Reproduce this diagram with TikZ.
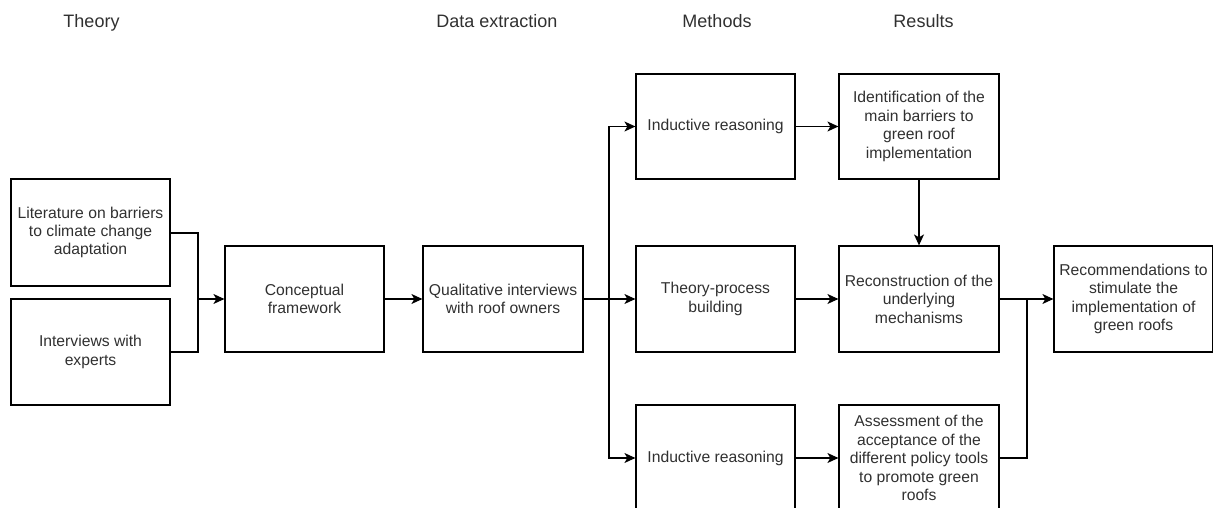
\documentclass[tikz,border=0pt]{standalone}
\usepackage{fontspec}
\setmainfont{Liberation Sans}
\usetikzlibrary{arrows.meta}
\definecolor{txt}{HTML}{303030}
\tikzset{
  box/.style={draw=black, line width=1.2pt, minimum width=159pt, minimum height=106pt,
    inner sep=0pt, align=center, text=txt, font=\fontsize{15.7}{18.4}\selectfont},
  head/.style={anchor=base, text=txt, inner sep=0pt, font=\fontsize{18}{21}\selectfont},
  link/.style={line width=1.2pt, draw=black},
  arr/.style={link, -{Stealth[length=11pt,width=10pt,inset=3pt]}}
}
\begin{document}
\begin{tikzpicture}[x=1pt,y=-1pt]
\useasboundingbox (0,0) rectangle (1213,508);
\clip (0,0) rectangle (1213,508);

% column headings
\node[head] (hTheory) at (91.5,28) {Theory};
\node[head] (hData) at (497,28) {Data extraction};
\node[head] (hMethods) at (717,28) {Methods};
\node[head] (hResults) at (923.5,28) {Results};

% theory
\node[box, minimum height=107pt] (lit) at (90.5,232.5) {Literature on barriers\\to climate change\\adaptation};
\node[box] (exp) at (90.5,352) {Interviews with\\experts};
\node[box] (conc) at (304.5,299) {Conceptual\\framework};

% data extraction
\node[box, minimum width=160pt] (qual) at (503,299) {Qualitative interviews\\with roof owners};

% methods
\node[box, minimum height=105pt] (ind1) at (715.5,126.5) {Inductive reasoning};
\node[box] (tpb) at (715.5,299) {Theory-process\\building};
\node[box] (ind2) at (715.5,458) {Inductive reasoning};

% results
\node[box, minimum width=160pt, minimum height=105pt] (ident) at (919,126.5) {Identification of the\\main barriers to\\green roof\\implementation};
\node[box, minimum width=160pt] (recon) at (919,299) {Reconstruction of the\\underlying\\mechanisms};
\node[box, minimum width=160pt] (assess) at (919,458) {Assessment of the\\acceptance of the\\different policy tools\\to promote green\\roofs};
\node[box] (rec) at (1133.5,299) {Recommendations to\\stimulate the\\implementation of\\green roofs};

% junction points
\coordinate (jTheory) at (198,299);
\coordinate (jSplit) at (609,299);
\coordinate (jMerge) at (1027,299);

% connectors
\draw[link] (lit.east |- 0,233) -| (jTheory);
\draw[link] (exp.east) -| (jTheory);
\draw[arr] (jTheory) -- (conc.west);
\draw[arr] (conc.east) -- (qual.west);
\draw[arr] (qual.east) -- (tpb.west);
\draw[arr] (jSplit) |- (ind1.west);
\draw[arr] (jSplit) |- (ind2.west);
\draw[arr] (ind1.east) -- (ident.west);
\draw[arr] (tpb.east) -- (recon.west);
\draw[arr] (ind2.east) -- (assess.west);
\draw[arr] (ident.south) -- (recon.north);
\draw[arr] (recon.east) -- (rec.west);
\draw[link] (assess.east) -| (jMerge);
\end{tikzpicture}
\end{document}
